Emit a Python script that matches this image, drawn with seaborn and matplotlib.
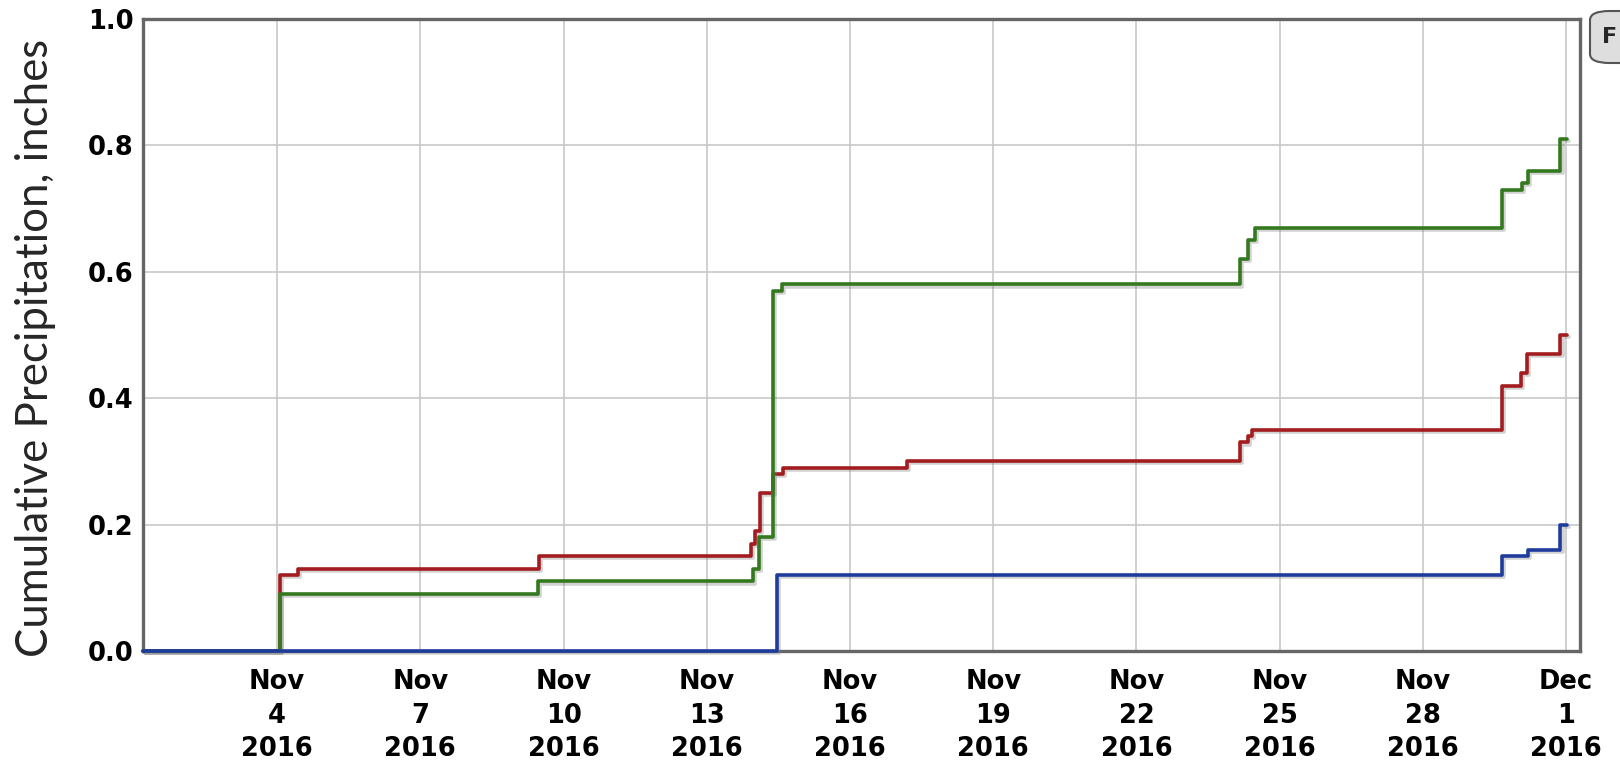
#!/usr/bin/env python
"""
Cumulative precipitation for three stations, November 2016.
"""

# ---------- PREP
import pandas as pd
import seaborn as sns
import matplotlib.pyplot as plt
import matplotlib.patheffects as pe
from matplotlib.patches import FancyBboxPatch

# ---------- DATA
# Times are given as fractional day of November 2016 (31 = Dec 1, 00:00)
red_day = [1.19, 4.05, 4.44, 9.48, 13.92, 14.01, 14.12, 14.39, 14.6, 17.2,
           24.16, 24.33, 24.42, 29.65, 30.05, 30.18, 30.88, 31.02]
red_val = [0.00, 0.12, 0.13, 0.15, 0.17, 0.19, 0.25, 0.28, 0.29, 0.30,
           0.33, 0.34, 0.35, 0.42, 0.44, 0.47, 0.50, 0.50]

green_day = [1.19, 4.05, 9.46, 13.96, 14.1, 14.38, 14.58, 24.16, 24.33,
             24.48, 29.65, 30.07, 30.2, 30.88, 31.02]
green_val = [0.00, 0.09, 0.11, 0.13, 0.18, 0.57, 0.58, 0.62, 0.65,
             0.67, 0.73, 0.74, 0.76, 0.81, 0.81]

blue_day = [1.19, 14.47, 29.65, 30.2, 30.88, 31.02]
blue_val = [0.00, 0.12, 0.15, 0.16, 0.20, 0.20]

tick_days = [4, 7, 10, 13, 16, 19, 22, 25, 28, 31]
tick_labels = ["Nov\n4\n2016", "Nov\n7\n2016", "Nov\n10\n2016", "Nov\n13\n2016",
               "Nov\n16\n2016", "Nov\n19\n2016", "Nov\n22\n2016", "Nov\n25\n2016",
               "Nov\n28\n2016", "Dec\n1\n2016"]
y_ticks = [0.0, 0.2, 0.4, 0.6, 0.8, 1.0]

# ---------- RESHAPE
start = pd.Timestamp("2016-11-01")
def to_time(days):
    return [start + pd.Timedelta(days=d - 1) for d in days]

df = pd.concat([
    pd.DataFrame({"time": to_time(red_day), "precip": red_val, "series": "red"}),
    pd.DataFrame({"time": to_time(green_day), "precip": green_val, "series": "green"}),
    pd.DataFrame({"time": to_time(blue_day), "precip": blue_val, "series": "blue"}),
])

palette = {"red": "#a31c1f", "green": "#34791f", "blue": "#1f3c9c"}

# ---------- PLOT
sns.set_style("white")
fig = plt.figure(figsize=(16.2, 7.64), dpi=100)
ax = fig.add_axes([143 / 1620, 1 - 651 / 764, 1437 / 1620, 632 / 764])

sns.lineplot(
    data=df, x="time", y="precip", hue="series",
    hue_order=["red", "green", "blue"], palette=palette,
    estimator=None, sort=False, legend=False,
    drawstyle="steps-post", linewidth=2.6, clip_on=False, zorder=3,
    path_effects=[pe.SimpleLineShadow(offset=(1.5, -1.5), alpha=0.35, shadow_color="gray"),
                  pe.Normal()],
    ax=ax,
)

ax.set_xlim(to_time([1.19])[0], to_time([31.29])[0])
ax.set_ylim(0, 1.0)
ax.set_xticks(to_time(tick_days))
ax.set_xticklabels(tick_labels, fontsize=18.5, fontweight="bold", color="black",
                   family="DejaVu Sans", linespacing=1.38)
ax.set_yticks(y_ticks)
ax.set_yticklabels([f"{t:.1f}" for t in y_ticks], fontsize=18.5, color="black",
                   fontweight="bold", family="DejaVu Sans")
ax.tick_params(axis="y", length=0, pad=7)
ax.tick_params(axis="x", length=0, pad=13)
ax.set_xlabel("")
ax.set_ylabel("")

ax.grid(True, color="#c8c8c8", linewidth=1.2)
ax.set_axisbelow(True)
for sp in ax.spines.values():
    sp.set_color("#666666")
    sp.set_linewidth(2.4)
    sp.set_zorder(2)

fig.text(36 / 1620, 1 - 348 / 764, "Cumulative Precipitation, inches",
         rotation=90, ha="center", va="center", fontsize=31.5, family="Lato")

# Cut-off button at the top right corner
btn = FancyBboxPatch((1590 / 1620, 1 - 63 / 764), 60 / 1620, 52 / 764,
                     boxstyle="round,pad=0,rounding_size=0.012",
                     transform=fig.transFigure, facecolor="#dedede",
                     edgecolor="#555555", linewidth=1.5)
fig.patches.append(btn)
fig.text(1602 / 1620, 1 - 37 / 764, "F", fontsize=16, fontweight="bold",
         ha="left", va="center", family="DejaVu Sans")

plt.savefig("out.png", dpi=100)
